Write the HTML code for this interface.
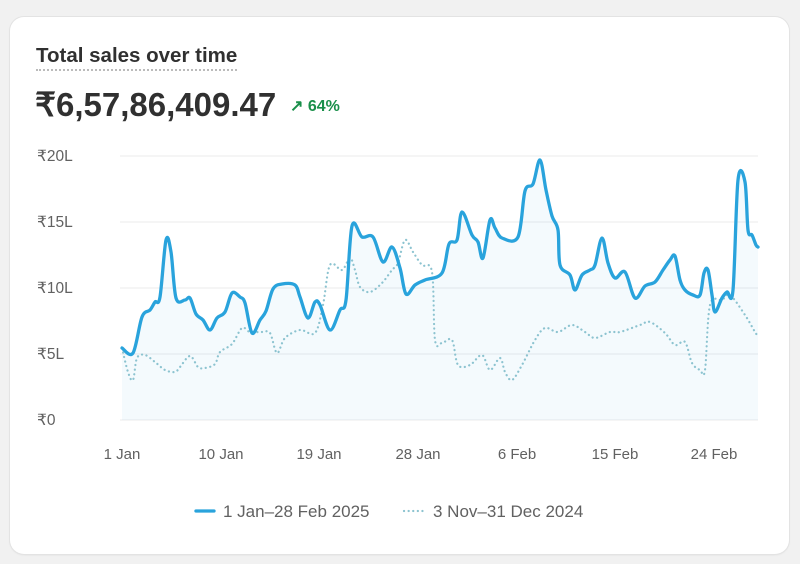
<!DOCTYPE html>
<html><head><meta charset="utf-8"><style>
html,body{margin:0;padding:0;width:800px;height:564px;background:#f1f1f1;overflow:hidden;font-family:"Liberation Sans",sans-serif;}
.card{position:absolute;left:10px;top:17px;width:779px;height:537px;background:#fff;border-radius:14px;box-shadow:0 0 0 1px #e3e3e3,0 1px 2px rgba(0,0,0,.08);}
.t{position:absolute;left:36px;top:44px;font-size:20.5px;font-weight:bold;color:#303030;border-bottom:2px dotted #bbb;padding-bottom:1px;}
.v{position:absolute;left:35px;top:85px;font-size:33px;font-weight:bold;color:#303030}
.p{position:absolute;left:290px;top:96px;font-size:16px;color:#1a8f4a;font-weight:bold}
svg{position:absolute;left:0;top:0}
</style></head><body>
<div class="card"></div>
<div class="t">Total sales over time</div>
<div class="v">₹6,57,86,409.47</div>
<div class="p">↗ 64%</div>
<svg width="800" height="564" font-family="Liberation Sans, sans-serif">
<g stroke="#ebebeb" stroke-width="1">
<line x1="120" y1="156" x2="758" y2="156"/><line x1="120" y1="222" x2="758" y2="222"/><line x1="120" y1="288" x2="758" y2="288"/><line x1="120" y1="354" x2="758" y2="354"/><line x1="120" y1="420" x2="758" y2="420"/>
</g>
<g fill="#616161" font-size="15.5">
<text x="37" y="161">₹20L</text><text x="37" y="227">₹15L</text><text x="37" y="293">₹10L</text><text x="37" y="359">₹5L</text><text x="37" y="425">₹0</text>
</g>
<g fill="#616161" font-size="15" text-anchor="middle">
<text x="122" y="459">1 Jan</text><text x="221" y="459">10 Jan</text><text x="319" y="459">19 Jan</text><text x="418" y="459">28 Jan</text><text x="517" y="459">6 Feb</text><text x="615" y="459">15 Feb</text><text x="714" y="459">24 Feb</text>
</g>
<path id="fill" fill="#29a3dc" fill-opacity="0.05"/>
<path id="dot" fill="none" stroke="#8cc3d0" stroke-width="2.2" stroke-dasharray="0.1 4.5" stroke-linecap="round"/>
<path id="sol" fill="none" stroke="#29a3dc" stroke-width="3.3" stroke-linejoin="round" stroke-linecap="round"/>
<line x1="196" y1="511" x2="214" y2="511" stroke="#29a3dc" stroke-width="3.3" stroke-linecap="round"/>
<text x="223" y="517" fill="#616161" font-size="17">1 Jan–28 Feb 2025</text>
<line x1="404" y1="511" x2="424" y2="511" stroke="#8cc3d0" stroke-width="2.2" stroke-dasharray="0.1 4.5" stroke-linecap="round"/>
<text x="433" y="517" fill="#616161" font-size="17">3 Nov–31 Dec 2024</text>
</svg>
<script>
var S=[[122,348],[133,353],[142,317],[150,310],[155,302],[160,297],[166,240],[171,252],[176,298],[185,300],[190,298],[196,314],[203,320],[210,330],[217,318],[225,312],[232,293],[240,297],[245,303],[252,333],[260,320],[266,311],[273,289],[282,284],[295,285],[300,297],[308,318],[315,302],[320,305],[330,330],[340,310],[346,300],[352,226],[362,237],[373,237],[383,262],[392,247],[400,268],[406,294],[415,285],[425,280],[442,273],[449,244],[457,240],[462,212],[472,235],[478,242],[483,258],[490,220],[495,228],[502,238],[518,237],[525,191],[533,184],[540,160],[546,190],[552,216],[558,230],[560,265],[570,275],[575,290],[582,275],[590,270],[595,265],[602,238],[608,263],[615,278],[625,272],[635,298],[645,286],[655,282],[663,270],[670,260],[675,256],[680,280],[685,290],[693,295],[700,295],[704,273],[708,270],[712,295],[715,312],[722,298],[727,292],[733,290],[738,180],[745,182],[748,230],[752,235],[756,245],[758,247]];
var D=[[122,348],[128,372],[133,380],[137,358],[145,355],[155,362],[165,370],[175,372],[180,367],[190,356],[198,367],[205,368],[215,364],[220,352],[232,344],[242,328],[250,332],[262,332],[270,333],[277,353],[285,338],[300,330],[315,333],[323,305],[330,265],[342,270],[350,258],[355,270],[360,287],[370,292],[382,283],[392,270],[398,263],[405,240],[413,252],[422,265],[432,272],[435,340],[442,343],[452,340],[458,365],[470,365],[482,355],[490,370],[500,358],[505,372],[512,380],[522,365],[535,340],[545,328],[558,332],[572,325],[585,332],[595,338],[610,332],[620,332],[640,325],[650,322],[665,333],[675,345],[685,342],[692,363],[700,370],[705,370],[710,305],[722,300],[730,295],[745,315],[755,332],[758,336]];
function cr(p){var d="M"+p[0][0]+","+p[0][1];for(var i=0;i<p.length-1;i++){var a=p[Math.max(i-1,0)],b=p[i],c=p[i+1],e=p[Math.min(i+2,p.length-1)];var t=6;d+=" C"+(b[0]+(c[0]-a[0])/t)+","+(b[1]+(c[1]-a[1])/t)+" "+(c[0]-(e[0]-b[0])/t)+","+(c[1]-(e[1]-b[1])/t)+" "+c[0]+","+c[1];}return d;}
var s=cr(S);document.getElementById("sol").setAttribute("d",s);
document.getElementById("dot").setAttribute("d",cr(D));
document.getElementById("fill").setAttribute("d",s+" L758,420 L122,420 Z");
</script>
</body></html>
